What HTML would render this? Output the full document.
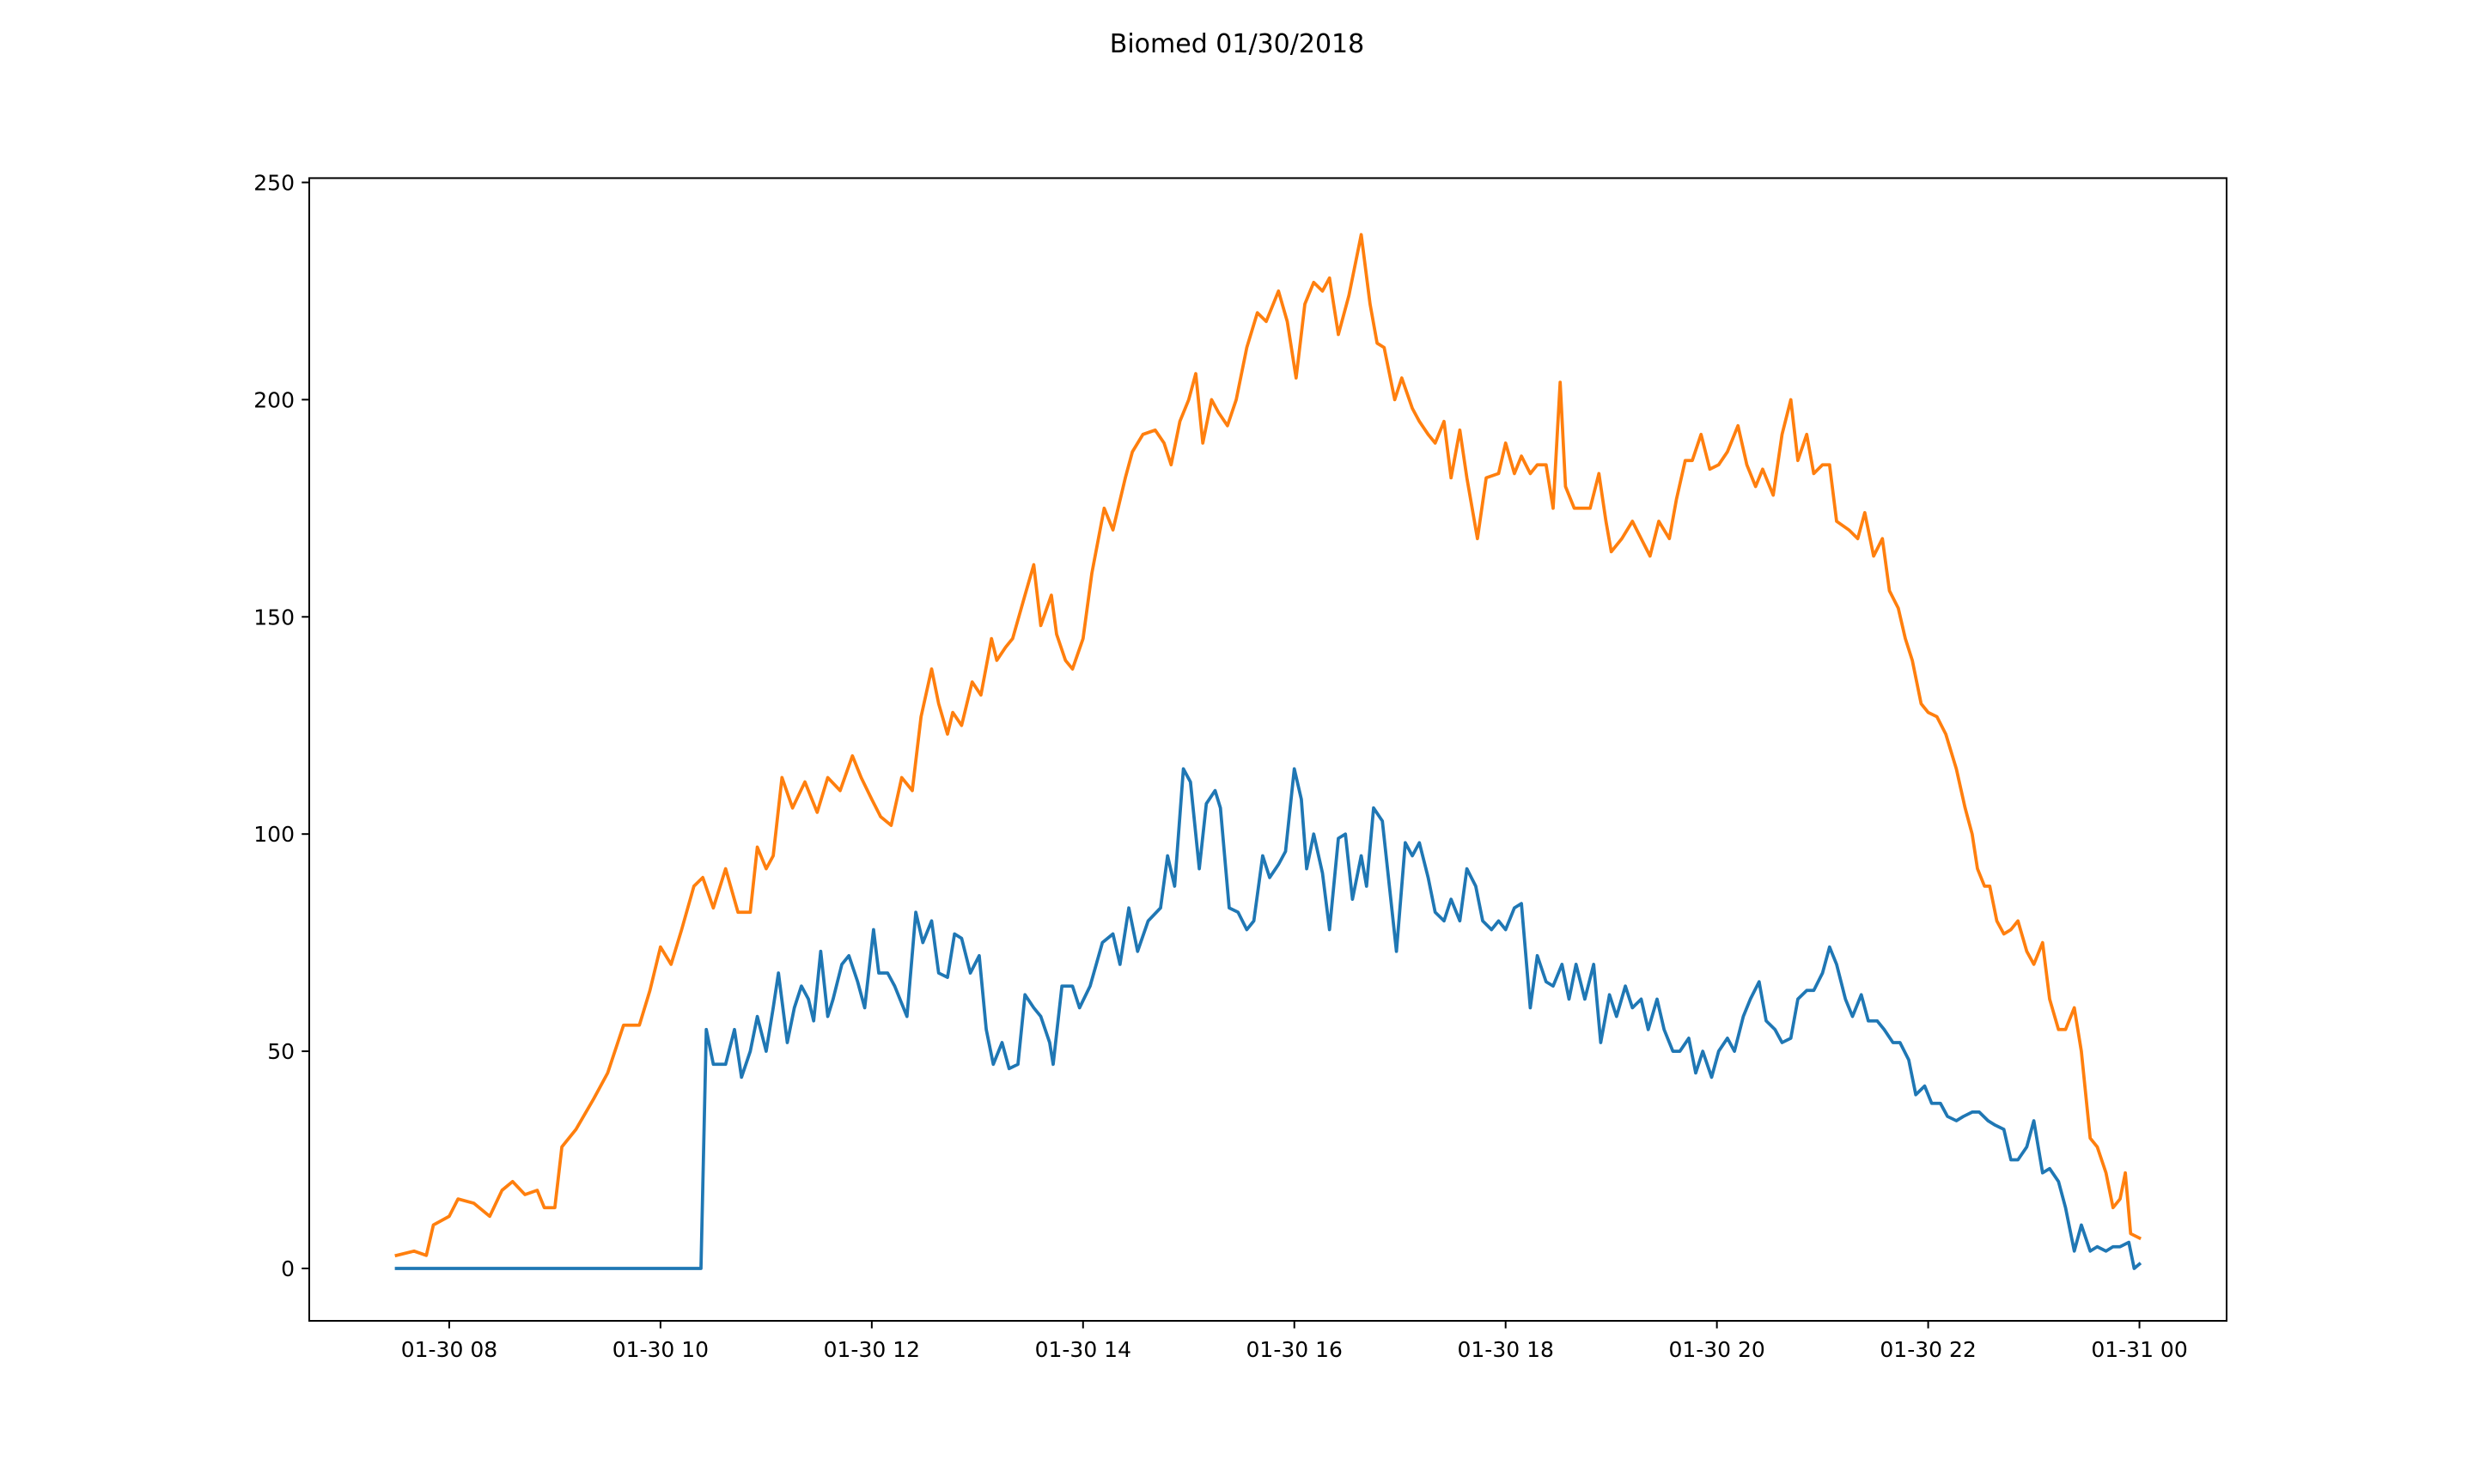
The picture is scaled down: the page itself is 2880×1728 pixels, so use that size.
<!DOCTYPE html>
<html><head><meta charset="utf-8"><style>
html,body{margin:0;padding:0;background:#fff;}
svg{display:block;font-family:"DejaVu Sans","Liberation Sans",sans-serif;}
</style></head><body>
<svg id="chart" width="2880" height="1728" viewBox="0 0 2880 1728" xmlns="http://www.w3.org/2000/svg">
<rect width="2880" height="1728" fill="#fff"/>
<text x="1440" y="61" font-size="30" text-anchor="middle">Biomed 01/30/2018</text>
<g id="plot"></g>
<rect x="360" y="207.4" width="2232" height="1330.6" fill="none" stroke="#000" stroke-width="2"/>
<g id="axes"></g>
</svg>
<script>
const startHour = 7.5;
const orangeMin = [0,10,17,21,30,35,44,53,60,66,73,80,84,90,94,102,112,120,129,138,144,150,156,162,169,174,180,187,194,201,205,210,214,219,225,232,239,245,252,259,264,270,275,281,287,293,298,304,308,313,316,321,327,332,338,341,346,350,357,362,366,372,375,380,384,390,395,402,407,414,418,424,431,436,440,445,450,454,458,463,467,472,477,483,489,494,501,506,511,516,521,526,530,535,541,545,548,553,557,561,567,571,577,581,586,590,595,599,604,608,614,619,626,630,635,639,644,648,653,657,661,664,669,673,678,683,687,690,696,702,707,712,717,723,727,732,736,741,746,751,756,762,767,772,776,782,787,792,796,801,805,810,814,818,825,830,834,839,844,848,853,857,861,866,870,875,880,886,891,895,898,902,905,909,913,917,921,926,930,935,939,944,948,953,957,962,966,971,975,979,982,985,990];
const orangeVal = [3,4,3,10,12,16,15,12,18,20,17,18,14,14,28,32,39,45,56,56,64,74,70,78,88,90,83,92,82,82,97,92,95,113,106,112,105,113,110,118,113,108,104,102,113,110,127,138,130,123,128,125,135,132,145,140,143,145,155,162,148,155,146,140,138,145,160,175,170,182,188,192,193,190,185,195,200,206,190,200,197,194,200,212,220,218,225,218,205,222,227,225,228,215,224,232,238,222,213,212,200,205,198,195,192,190,195,182,193,182,168,182,183,190,183,187,183,185,185,175,204,180,175,175,175,183,172,165,168,172,168,164,172,168,177,186,186,192,184,185,188,194,185,180,184,178,192,200,186,192,183,185,185,172,170,168,174,164,168,156,152,145,140,130,128,127,123,115,106,100,92,88,88,80,77,78,80,73,70,75,62,55,55,60,50,30,28,22,14,16,22,8,7];
const blueMin = [0,173,176,180,187,192,196,201,205,210,214,217,222,226,230,234,237,241,245,248,253,257,262,266,271,274,279,283,290,295,299,304,308,313,317,321,326,331,335,339,344,348,353,357,362,366,371,373,378,384,388,394,401,407,411,416,421,427,434,438,442,447,451,456,460,465,468,473,478,483,487,492,496,501,505,510,514,517,521,526,530,535,539,543,548,551,555,560,564,568,573,577,581,586,590,595,599,604,608,613,617,622,626,630,635,639,644,648,653,657,662,666,670,675,680,684,689,693,698,702,707,711,716,720,725,729,734,738,742,747,751,756,760,765,769,774,778,783,787,792,796,801,805,810,814,818,823,827,832,836,841,845,850,854,859,863,868,872,877,881,886,890,895,899,904,908,913,917,921,926,930,935,939,944,948,953,957,962,966,971,975,979,984,987,990];
const blueVal = [0,0,55,47,47,55,44,50,58,50,60,68,52,60,65,62,57,73,58,62,70,72,66,60,78,68,68,65,58,82,75,80,68,67,77,76,68,72,55,47,52,46,47,63,60,58,52,47,65,65,60,65,75,77,70,83,73,80,83,95,88,115,112,92,107,110,106,83,82,78,80,95,90,93,96,115,108,92,100,91,78,99,100,85,95,88,106,103,88,73,98,95,98,90,82,80,85,80,92,88,80,78,80,78,83,84,60,72,66,65,70,62,70,62,70,52,63,58,65,60,62,55,62,55,50,50,53,45,50,44,50,53,50,58,62,66,57,55,52,53,62,64,64,68,74,70,62,58,63,57,57,55,52,52,48,40,42,38,38,35,34,35,36,36,34,33,32,25,25,28,34,22,23,20,14,4,10,4,5,4,5,5,6,0,1];
const yTicks = [0,50,100,150,200,250];
const xTickHours = [8,10,12,14,16,18,20,22,24];
const xTickLabels = ["01-30 08","01-30 10","01-30 12","01-30 14","01-30 16","01-30 18","01-30 20","01-30 22","01-31 00"];

const NS = "http://www.w3.org/2000/svg";
const L=360, R=2592, T=207.4, B=1538;
const xMin=6.675, xMax=24.825, yMin=-12.06, yMax=251;
function xs(h){return L+(h-xMin)/(xMax-xMin)*(R-L);}
function ys(v){return B-(v-yMin)/(yMax-yMin)*(B-T);}
function mk(tag, attrs, parent){const e=document.createElementNS(NS,tag);for(const k in attrs)e.setAttribute(k,attrs[k]);parent.appendChild(e);return e;}

const plot=document.getElementById('plot');
function drawSeries(mins, vals, color, name){
  let d='';
  for(let i=0;i<mins.length;i++){
    d+=(i?'L':'M')+xs(startHour+mins[i]/60).toFixed(1)+' '+ys(vals[i]).toFixed(1);
  }
  const p=mk('path',{d:d,fill:'none',stroke:color,'stroke-width':3.75,'stroke-linejoin':'round','stroke-linecap':'square'},plot);
  
  
}
drawSeries(blueMin, blueVal, '#1f77b4', 'series-blue-line');
drawSeries(orangeMin, orangeVal, '#ff7f0e', 'series-orange-line');

const axes=document.getElementById('axes');


yTicks.forEach(v=>{
  const y=ys(v);
  const t=mk('line',{x1:L-8.75,x2:L,y1:y,y2:y,stroke:'#000','stroke-width':2},axes);
  
  
  const tx=mk('text',{x:L-17,y:y+9,'font-size':25,'text-anchor':'end'},axes);
  tx.textContent=String(v);
  
  
});
xTickHours.forEach((h,i)=>{
  const x=xs(h);
  const t=mk('line',{x1:x,x2:x,y1:B,y2:B+8.75,stroke:'#000','stroke-width':2},axes);
  
  
  const tx=mk('text',{x:x,y:B+42,'font-size':25,'text-anchor':'middle'},axes);
  tx.textContent=xTickLabels[i];
  
  
});
</script>
</body></html>
